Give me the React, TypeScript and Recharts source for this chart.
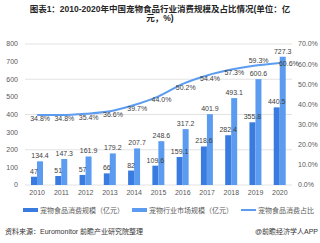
import React from "react";
import { ComposedChart, Bar, Line, XAxis, YAxis, CartesianGrid, LabelList } from "recharts";

const years = ["2010", "2011", "2012", "2013", "2014", "2015", "2016", "2017", "2018", "2019", "2020"];
const foodSpend = [47, 51, 57, 66, 82, 109.6, 159.1, 218.6, 282.4, 355.8, 440.5];
const marketSize = [134.4, 147.3, 161.9, 179.2, 207.7, 248.6, 317.2, 401.9, 493.1, 600.6, 727.3];
const foodShare = [34.8, 34.8, 35.4, 36.6, 39.7, 44.0, 50.2, 54.4, 57.3, 59.3, 60.6];
const leftTicks = [0, 100, 200, 300, 400, 500, 600, 700, 800];
const rightTicks = [0, 10, 20, 30, 40, 50, 60, 70];

const data = years.map((y, i) => ({
  year: y,
  food: foodSpend[i],
  market: marketSize[i],
  share: foodShare[i],
}));

const DARK = "#3a7bdf";
const LIGHT = "#5b9cf0";
const FONT = "'Liberation Sans', 'Noto Sans CJK SC', sans-serif";
const tickStyle = { fill: "#595959", fontSize: 7, fontFamily: FONT };

// share labels sit just under the curve; the last two are nudged so they clear the tall bars
const ShareLabel = (props: any) => {
  const { x, y, value, index } = props;
  const dx = index === 10 ? 9 : 3;
  const dy = index === 9 ? -4 : index === 10 ? 1 : 4;
  return (
    <text x={x + dx} y={y + dy} fill="#404040" fontSize={7} fontFamily={FONT} textAnchor="middle" dominantBaseline="middle">
      {`${Number(value).toFixed(1)}%`}
    </text>
  );
};

export default function App() {
  return (
    <div style={{ position: "absolute", left: 0, top: 0, width: 320, height: 243, background: "#fff", fontFamily: FONT }}>
      <div style={{ position: "absolute", top: 5, left: 10, width: 300, textAlign: "center", fontSize: 8.5, fontWeight: "bold", color: "#262626", lineHeight: "9px" }}>
        图表1：2010-2020年中国宠物食品行业消费规模及占比情况(单位：亿<br />元，%)
      </div>
      <div style={{ position: "absolute", left: 0, top: 0 }}>
        <ComposedChart width={320} height={200} data={data} margin={{ top: 44, right: 0, left: 0, bottom: 0 }} barGap={0}>
          <CartesianGrid vertical={false} stroke="#e3e3e3" yAxisId="left" />
          <XAxis dataKey="year" height={15} tickSize={0} tickMargin={5} axisLine={false} tickLine={false} tick={tickStyle} interval={0} />
          <YAxis yAxisId="left" domain={[0, 800]} ticks={leftTicks} width={25} tickSize={0} tickMargin={7} axisLine={false} tickLine={false} tick={tickStyle} />
          <YAxis yAxisId="right" orientation="right" domain={[0, 70]} ticks={rightTicks} width={28} tickSize={0} tickMargin={6} axisLine={false} tickLine={false} tick={tickStyle} tickFormatter={(v: number) => `${v.toFixed(1)}%`} />
          <Bar yAxisId="left" dataKey="food" fill={DARK} barSize={6} isAnimationActive={false}>
            <LabelList dataKey="food" position="top" offset={3} fill="#404040" fontSize={7} fontFamily={FONT} />
          </Bar>
          <Bar yAxisId="left" dataKey="market" fill={LIGHT} barSize={6} isAnimationActive={false}>
            <LabelList dataKey="market" position="top" offset={3} fill="#404040" fontSize={7} fontFamily={FONT} />
          </Bar>
          <Line yAxisId="right" type="monotone" dataKey="share" stroke={LIGHT} strokeWidth={2} dot={false} isAnimationActive={false}>
            <LabelList dataKey="share" content={ShareLabel} />
          </Line>
        </ComposedChart>
      </div>
      <div style={{ position: "absolute", top: 205, left: 23, display: "flex", alignItems: "center", fontSize: 7, color: "#595959", whiteSpace: "nowrap" }}>
        <span style={{ display: "inline-block", width: 15, height: 4, background: DARK, marginRight: 2 }} />
        <span style={{ marginRight: 8 }}>宠物食品消费规模（亿元）</span>
        <span style={{ display: "inline-block", width: 15, height: 4, background: LIGHT, marginRight: 2 }} />
        <span style={{ marginRight: 8 }}>宠物行业市场规模（亿元）</span>
        <span style={{ display: "inline-block", width: 15, height: 2, background: LIGHT, marginRight: 2 }} />
        <span>宠物食品消费占比</span>
      </div>
      <div style={{ position: "absolute", top: 226, left: 5, fontSize: 7, color: "#333", whiteSpace: "nowrap" }}>
        资料来源：Euromonitor 前瞻产业研究院整理
      </div>
      <div style={{ position: "absolute", top: 226, right: 2, fontSize: 7, color: "#333", whiteSpace: "nowrap" }}>
        @前瞻经济学人APP
      </div>
    </div>
  );
}
